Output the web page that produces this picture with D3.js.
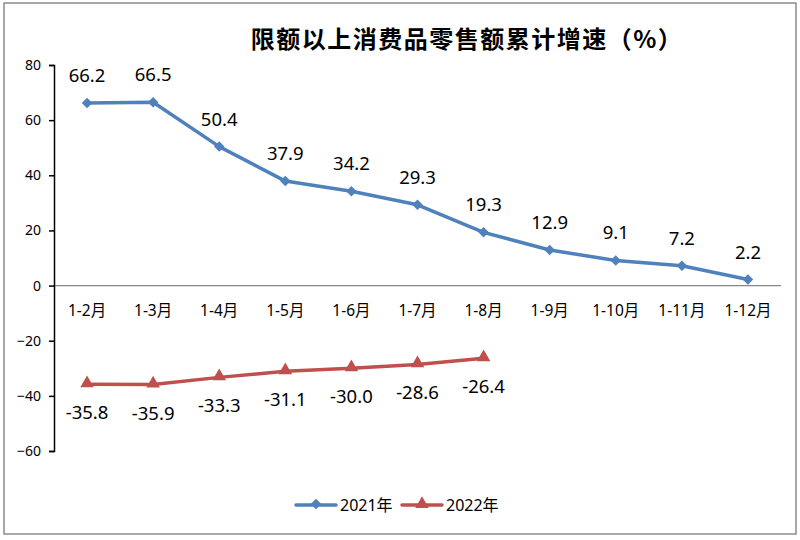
<!DOCTYPE html>
<html>
<head>
<meta charset="utf-8">
<script src="https://cdn.jsdelivr.net/npm/d3@7"></script>
<style>
body { margin: 0; background: #fff; }
text { font-family: "Noto Sans", "Noto Sans CJK SC", sans-serif; }
</style>
</head>
<body>
<script>
var months = ["1-2月", "1-3月", "1-4月", "1-5月", "1-6月", "1-7月", "1-8月", "1-9月", "1-10月", "1-11月", "1-12月"];
var values2021 = [66.2, 66.5, 50.4, 37.9, 34.2, 29.3, 19.3, 12.9, 9.1, 7.2, 2.2];
var values2022 = [-35.8, -35.9, -33.3, -31.1, -30.0, -28.6, -26.4];
var yTicks = [-60, -40, -20, 0, 20, 40, 60, 80];
var title = "限额以上消费品零售额累计增速（%）";

var w = 800, h = 540,
    blue = "#4F81BD", red = "#C0504D";

var svg = d3.select("body").append("svg")
    .attr("width", w)
    .attr("height", h);

svg.append("rect")
    .attr("x", 4).attr("y", 3)
    .attr("width", 792).attr("height", 531)
    .attr("fill", "#fff")
    .attr("stroke", "#8c8c8c")
    .attr("stroke-width", 1.5);

svg.append("text")
    .attr("x", 467).attr("y", 48)
    .attr("text-anchor", "middle")
    .style("font-family", "'Noto Sans CJK SC', serif")
    .style("font-size", "24px")
    .style("font-weight", "bold")
    .style("letter-spacing", "1.5px")
    .attr("fill", "#000")
    .text(title);

var x = d3.scaleBand().domain(months).range([54, 781]);
var y = d3.scaleLinear().domain([-60, 80]).range([451, 65]);
var cx = function(d, i) { return x(months[i]) + x.bandwidth() / 2; };

// zero line
svg.append("line")
    .attr("x1", 54).attr("x2", 781)
    .attr("y1", y(0)).attr("y2", y(0))
    .attr("stroke", "#868686").attr("stroke-width", 1.3);

var yAxis = svg.append("g")
    .attr("transform", "translate(54,0)")
    .call(d3.axisLeft(y).tickValues(yTicks).tickSize(5).tickSizeOuter(5).tickPadding(8));
yAxis.select(".domain").attr("stroke", "#000").attr("stroke-width", 1.5);
yAxis.selectAll(".tick line").attr("stroke", "#000").attr("stroke-width", 1.5);
yAxis.selectAll(".tick text")
    .style("font-size", "14px")
    .attr("fill", "#000");

svg.selectAll("text.cat")
    .data(months)
  .enter().append("text")
    .attr("class", "cat")
    .attr("x", function(d) { return x(d) + x.bandwidth() / 2; })
    .attr("y", y(0) + 30)
    .attr("text-anchor", "middle")
    .style("font-size", "15.5px")
    .attr("fill", "#000")
    .text(function(d) { return d; });

var line = d3.line()
    .x(cx)
    .y(function(d) { return y(d); });

svg.append("path")
    .datum(values2021)
    .attr("fill", "none")
    .attr("stroke", blue)
    .attr("stroke-width", 3.5)
    .attr("stroke-linejoin", "round")
    .attr("d", line);

svg.append("path")
    .datum(values2022)
    .attr("fill", "none")
    .attr("stroke", red)
    .attr("stroke-width", 3.5)
    .attr("stroke-linejoin", "round")
    .attr("d", line);

var diamond = d3.symbol().type(d3.symbolDiamond2).size(70);
var triangle = d3.symbol().type(d3.symbolTriangle).size(80);

svg.selectAll("path.m1")
    .data(values2021)
  .enter().append("path")
    .attr("class", "m1")
    .attr("d", diamond)
    .attr("fill", blue)
    .attr("transform", function(d, i) { return "translate(" + cx(d, i) + "," + y(d) + ")"; });

svg.selectAll("path.m2")
    .data(values2022)
  .enter().append("path")
    .attr("class", "m2")
    .attr("d", triangle)
    .attr("fill", red)
    .attr("transform", function(d, i) { return "translate(" + cx(d, i) + "," + (y(d) - 1) + ")"; });

svg.selectAll("text.l1")
    .data(values2021)
  .enter().append("text")
    .attr("class", "l1")
    .attr("x", cx)
    .attr("y", function(d) { return y(d) - 21; })
    .attr("text-anchor", "middle")
    .style("font-size", "18.5px")
    .attr("fill", "#000")
    .text(function(d) { return d.toFixed(1); });

svg.selectAll("text.l2")
    .data(values2022)
  .enter().append("text")
    .attr("class", "l2")
    .attr("x", cx)
    .attr("y", function(d) { return y(d) + 35; })
    .attr("text-anchor", "middle")
    .style("font-size", "18.5px")
    .attr("fill", "#000")
    .text(function(d) { return d.toFixed(1); });

// legend
var legend = [
  {name: "2021年", color: blue, sym: diamond, x: 296},
  {name: "2022年", color: red, sym: triangle, x: 402}
];
var lg = svg.selectAll("g.legend")
    .data(legend)
  .enter().append("g")
    .attr("class", "legend")
    .attr("transform", function(d) { return "translate(" + d.x + ",505)"; });
lg.append("line")
    .attr("x1", 0).attr("x2", 40)
    .attr("stroke", function(d) { return d.color; })
    .attr("stroke-width", 3.5)
    .attr("stroke-linecap", "round");
lg.append("path")
    .attr("d", function(d) { return d.sym(); })
    .attr("fill", function(d) { return d.color; })
    .attr("transform", "translate(20,-1)");
lg.append("text")
    .attr("x", 44).attr("y", 6)
    .style("font-size", "16px")
    .attr("fill", "#000")
    .text(function(d) { return d.name; });
</script>
</body>
</html>
